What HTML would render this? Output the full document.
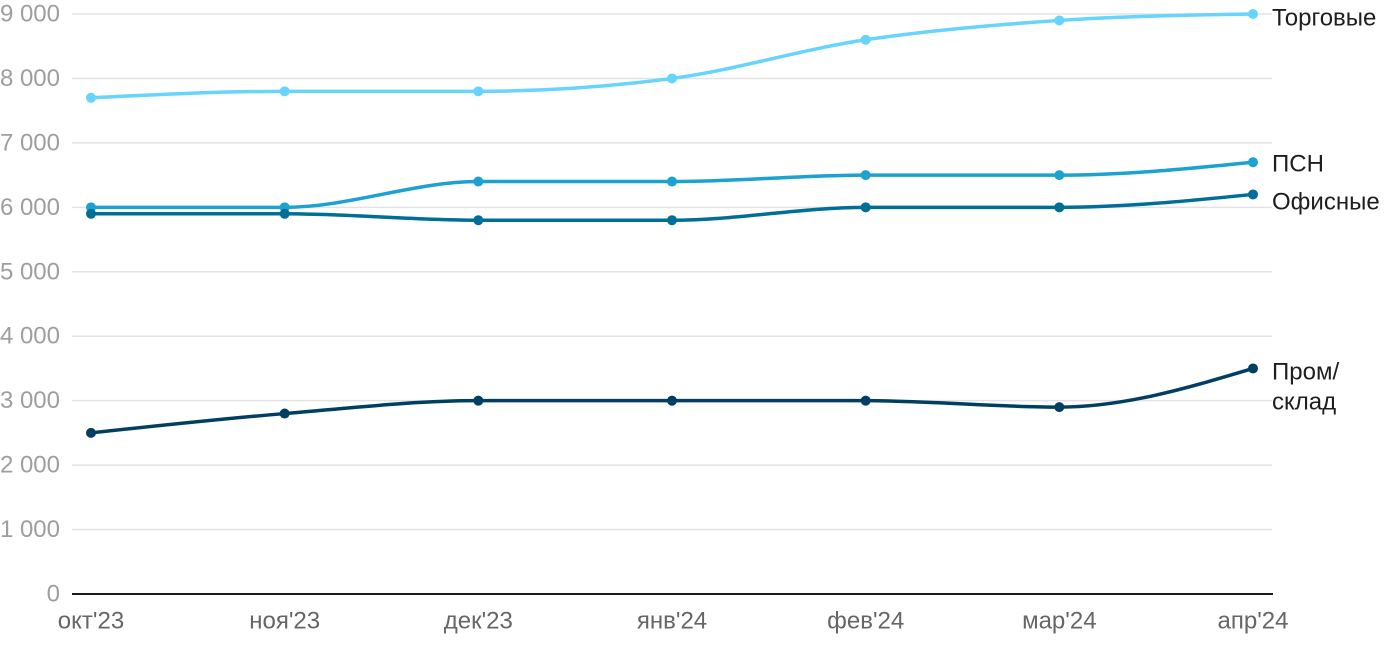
<!DOCTYPE html>
<html>
<head>
<meta charset="utf-8">
<style>
html,body{margin:0;padding:0;background:#fff;}
svg{display:block;}
text{font-family:"Liberation Sans","DejaVu Sans",sans-serif;}
</style>
</head>
<body>
<svg width="1400" height="650" viewBox="0 0 1400 650" xmlns="http://www.w3.org/2000/svg">
  <g stroke="#e3e3e3" stroke-width="1.5">
    <line x1="72" x2="1272" y1="14" y2="14"/>
    <line x1="72" x2="1272" y1="78.44" y2="78.44"/>
    <line x1="72" x2="1272" y1="142.89" y2="142.89"/>
    <line x1="72" x2="1272" y1="207.33" y2="207.33"/>
    <line x1="72" x2="1272" y1="271.78" y2="271.78"/>
    <line x1="72" x2="1272" y1="336.22" y2="336.22"/>
    <line x1="72" x2="1272" y1="400.67" y2="400.67"/>
    <line x1="72" x2="1272" y1="465.11" y2="465.11"/>
    <line x1="72" x2="1272" y1="529.56" y2="529.56"/>
  </g>
  <line x1="72" x2="1273" y1="594" y2="594" stroke="#1a1a1a" stroke-width="2"/>

  <g fill="#9e9e9e" font-size="24" text-anchor="end" dominant-baseline="central">
    <text x="60" y="14">9 000</text>
    <text x="60" y="78.44">8 000</text>
    <text x="60" y="142.89">7 000</text>
    <text x="60" y="207.33">6 000</text>
    <text x="60" y="271.78">5 000</text>
    <text x="60" y="336.22">4 000</text>
    <text x="60" y="400.67">3 000</text>
    <text x="60" y="465.11">2 000</text>
    <text x="60" y="529.56">1 000</text>
    <text x="60" y="594">0</text>
  </g>

  <g fill="#666" font-size="24" text-anchor="middle" dominant-baseline="central">
    <text x="91" y="621">окт'23</text>
    <text x="284.67" y="621">ноя'23</text>
    <text x="478.33" y="621">дек'23</text>
    <text x="672" y="621">янв'24</text>
    <text x="865.67" y="621">фев'24</text>
    <text x="1059.33" y="621">мар'24</text>
    <text x="1253" y="621">апр'24</text>
  </g>

  <g fill="none" stroke-width="3.5" stroke-linecap="round">
    <path stroke="#66d4fc" d="M91,97.78 C155.56,94.56 220.11,91.33 284.67,91.33 C349.22,91.33 413.78,91.33 478.33,91.33 C542.89,91.33 607.44,87.04 672,78.44 C736.56,69.85 801.11,49.44 865.67,39.78 C930.22,30.11 994.78,24.74 1059.33,20.44 C1123.89,16.15 1188.44,15.07 1253,14"/>
    <path stroke="#1ba2d0" d="M91,207.33 C155.56,207.33 220.11,207.33 284.67,207.33 C349.22,207.33 413.78,181.56 478.33,181.56 C542.89,181.56 607.44,181.56 672,181.56 C736.56,181.56 801.11,175.11 865.67,175.11 C930.22,175.11 994.78,175.11 1059.33,175.11 C1123.89,175.11 1188.44,168.67 1253,162.22"/>
    <path stroke="#006e97" d="M91,213.78 C155.56,213.78 220.11,213.78 284.67,213.78 C349.22,213.78 413.78,220.22 478.33,220.22 C542.89,220.22 607.44,220.22 672,220.22 C736.56,220.22 801.11,207.33 865.67,207.33 C930.22,207.33 994.78,207.33 1059.33,207.33 C1123.89,207.33 1188.44,200.89 1253,194.44"/>
    <path stroke="#003f62" d="M91,432.89 C155.56,425.91 220.11,418.93 284.67,413.56 C349.22,408.19 413.78,400.67 478.33,400.67 C542.89,400.67 607.44,400.67 672,400.67 C736.56,400.67 801.11,400.67 865.67,400.67 C930.22,400.67 994.78,407.11 1059.33,407.11 C1123.89,407.11 1188.44,387.78 1253,368.44"/>
  </g>

  <g fill="#66d4fc">
    <circle cx="91" cy="97.78" r="5"/><circle cx="284.67" cy="91.33" r="5"/><circle cx="478.33" cy="91.33" r="5"/><circle cx="672" cy="78.44" r="5"/><circle cx="865.67" cy="39.78" r="5"/><circle cx="1059.33" cy="20.44" r="5"/><circle cx="1253" cy="14" r="5"/>
  </g>
  <g fill="#1ba2d0">
    <circle cx="91" cy="207.33" r="5"/><circle cx="284.67" cy="207.33" r="5"/><circle cx="478.33" cy="181.56" r="5"/><circle cx="672" cy="181.56" r="5"/><circle cx="865.67" cy="175.11" r="5"/><circle cx="1059.33" cy="175.11" r="5"/><circle cx="1253" cy="162.22" r="5"/>
  </g>
  <g fill="#006e97">
    <circle cx="91" cy="213.78" r="5"/><circle cx="284.67" cy="213.78" r="5"/><circle cx="478.33" cy="220.22" r="5"/><circle cx="672" cy="220.22" r="5"/><circle cx="865.67" cy="207.33" r="5"/><circle cx="1059.33" cy="207.33" r="5"/><circle cx="1253" cy="194.44" r="5"/>
  </g>
  <g fill="#003f62">
    <circle cx="91" cy="432.89" r="5"/><circle cx="284.67" cy="413.56" r="5"/><circle cx="478.33" cy="400.67" r="5"/><circle cx="672" cy="400.67" r="5"/><circle cx="865.67" cy="400.67" r="5"/><circle cx="1059.33" cy="407.11" r="5"/><circle cx="1253" cy="368.44" r="5"/>
  </g>

  <g fill="#1e1e1e" font-size="24" dominant-baseline="central">
    <text x="1272" y="18">Торговые</text>
    <text x="1272" y="164">ПСН</text>
    <text x="1272" y="202">Офисные</text>
    <text x="1272" y="372">Пром/</text>
    <text x="1272" y="402">склад</text>
  </g>
</svg>
</body>
</html>
